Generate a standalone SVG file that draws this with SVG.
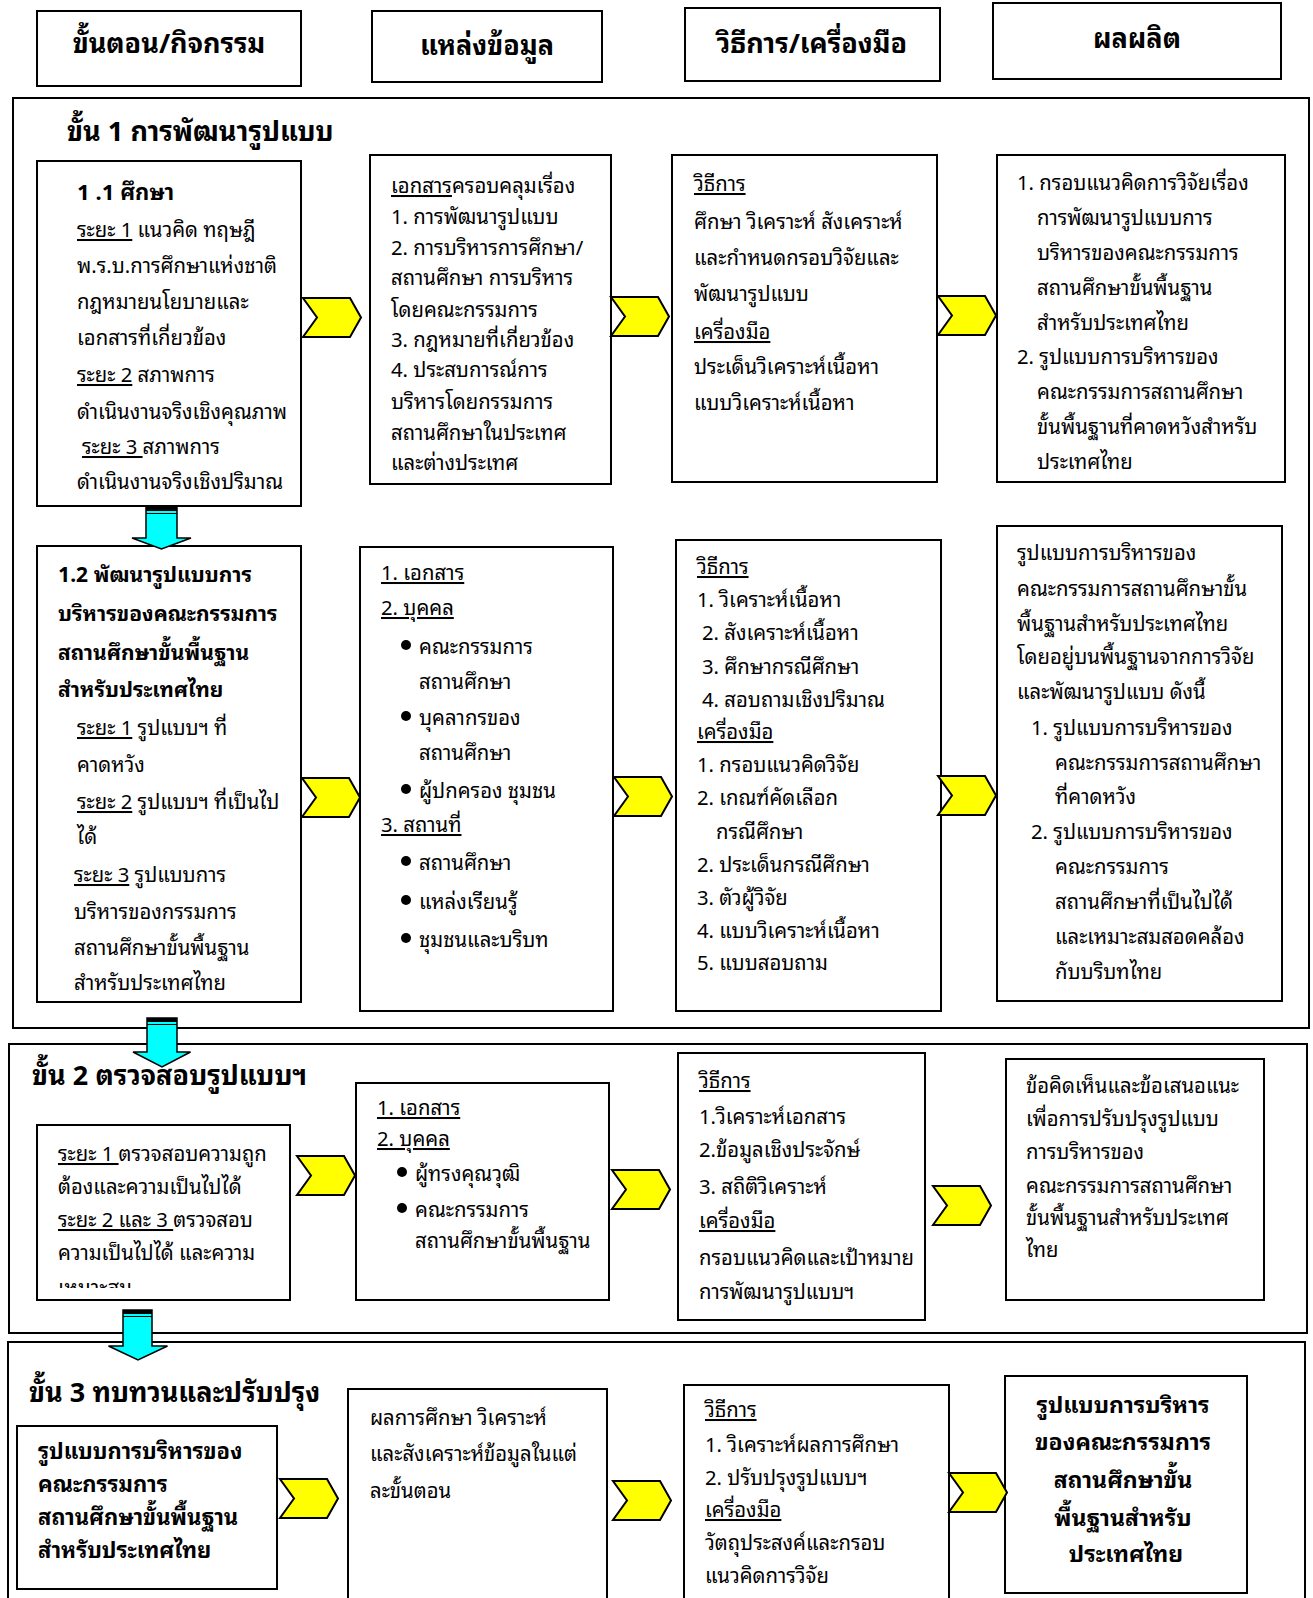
<svg xmlns="http://www.w3.org/2000/svg" xmlns:xlink="http://www.w3.org/1999/xlink" width="1313" height="1598" viewBox="0 0 1313 1598">
<style>
.bg{fill:#fff}
.sec{fill:none;stroke:#000;stroke-width:2}
.box{fill:#fff;stroke:#000;stroke-width:2}
.t{font-family:"Noto Sans Thai Looped","Noto Sans Thai","Noto Sans Thai UI",Loma,Garuda,"Noto Sans",sans-serif;font-size:20.3px;fill:#000}
.b{font-weight:bold}
.h{font-family:"Noto Sans Thai Looped","Noto Sans Thai","Noto Sans Thai UI",Loma,Garuda,"Noto Sans",sans-serif;font-size:27px;font-weight:bold;fill:#000}
.st{font-family:"Noto Sans Thai Looped","Noto Sans Thai","Noto Sans Thai UI",Loma,Garuda,"Noto Sans",sans-serif;font-size:27px;font-weight:bold;fill:#000}
.u{text-decoration:underline}
.c{text-anchor:middle}
.chev{fill:#ffff00;stroke:#000;stroke-width:2;stroke-linejoin:miter}
.down{fill:#00ffff;stroke:#000;stroke-width:1.5}
.dot{fill:#000}
</style>
<defs>
<path id="chev" class="chev" d="M0,0 H47 L58,19.5 L47,39 H0 L14,19.5 Z"/>
<clipPath id="clipI"><rect x="37" y="1125" width="253" height="163"/></clipPath>
</defs>
<rect class="bg" x="0" y="0" width="1313" height="1598"/>

<!-- header -->
<g id="hdr1"><rect class="box" x="37" y="11" width="264" height="75"/><text class="h c" x="169" y="53">ขั้นตอน/กิจกรรม</text></g>
<g id="hdr2"><rect class="box" x="372" y="11" width="230" height="71"/><text class="h c" x="487" y="55">แหล่งข้อมูล</text></g>
<g id="hdr3"><rect class="box" x="685" y="8" width="255" height="73"/><text class="h c" x="812" y="53">วิธีการ/เครื่องมือ</text></g>
<g id="hdr4"><rect class="box" x="993" y="3" width="288" height="76"/><text class="h c" x="1137" y="48">ผลผลิต</text></g>

<!-- sections -->
<g id="section1"><rect class="sec" x="13" y="98" width="1296" height="930"/><text class="st" x="67" y="141">ขั้น 1 การพัฒนารูปแบบ</text></g>
<g id="section2"><rect class="sec" x="9" y="1044" width="1298" height="289"/><text class="st" x="32" y="1085">ขั้น 2 ตรวจสอบรูปแบบฯ</text></g>
<g id="section3"><rect class="sec" x="8" y="1342" width="1297" height="270"/><text class="st" x="29" y="1402">ขั้น 3 ทบทวนและปรับปรุง</text></g>

<!-- row 1.1 -->
<g id="boxA"><rect class="box" x="37" y="161" width="264" height="345"/>
<text class="t" x="77"><tspan class="b" y="200" style="font-size:22px">1 .1 ศึกษา</tspan>
<tspan x="77" y="237"><tspan class="u">ระยะ 1</tspan>  แนวคิด ทฤษฎี</tspan>
<tspan x="77" y="273">พ.ร.บ.การศึกษาแห่งชาติ</tspan>
<tspan x="77" y="309">กฎหมายนโยบายและ</tspan>
<tspan x="77" y="345">เอกสารที่เกี่ยวข้อง</tspan>
<tspan x="77" y="382"><tspan class="u">ระยะ 2</tspan>  สภาพการ</tspan>
<tspan x="77" y="419">ดำเนินงานจริงเชิงคุณภาพ</tspan>
<tspan x="82" y="454"><tspan class="u">ระยะ 3 </tspan>สภาพการ</tspan>
<tspan x="77" y="489">ดำเนินงานจริงเชิงปริมาณ</tspan></text></g>

<g id="boxB"><rect class="box" x="370" y="155" width="241" height="329"/>
<text class="t" x="391"><tspan y="193"><tspan class="u">เอกสาร</tspan>ครอบคลุมเรื่อง</tspan>
<tspan x="391" y="224">1. การพัฒนารูปแบบ</tspan>
<tspan x="391" y="255">2. การบริหารการศึกษา/</tspan>
<tspan x="391" y="285">สถานศึกษา การบริหาร</tspan>
<tspan x="391" y="317">โดยคณะกรรมการ</tspan>
<tspan x="391" y="347">3. กฎหมายที่เกี่ยวข้อง</tspan>
<tspan x="391" y="377">4. ประสบการณ์การ</tspan>
<tspan x="391" y="409">บริหารโดยกรรมการ</tspan>
<tspan x="391" y="440">สถานศึกษาในประเทศ</tspan>
<tspan x="391" y="470">และต่างประเทศ</tspan></text></g>

<g id="boxC"><rect class="box" x="672" y="155" width="265" height="327"/>
<text class="t" x="694"><tspan class="u" y="191">วิธีการ</tspan>
<tspan x="694" y="229">ศึกษา วิเคราะห์ สังเคราะห์</tspan>
<tspan x="694" y="265">และกำหนดกรอบวิจัยและ</tspan>
<tspan x="694" y="301">พัฒนารูปแบบ</tspan>
<tspan x="694" y="339" class="u">เครื่องมือ</tspan>
<tspan x="694" y="374">ประเด็นวิเคราะห์เนื้อหา</tspan>
<tspan x="694" y="410">แบบวิเคราะห์เนื้อหา</tspan></text></g>

<g id="boxD"><rect class="box" x="997" y="155" width="288" height="327"/>
<text class="t"><tspan x="1017" y="190">1. กรอบแนวคิดการวิจัยเรื่อง</tspan>
<tspan x="1037" y="225">การพัฒนารูปแบบการ</tspan>
<tspan x="1037" y="260">บริหารของคณะกรรมการ</tspan>
<tspan x="1037" y="295">สถานศึกษาขั้นพื้นฐาน</tspan>
<tspan x="1037" y="330">สำหรับประเทศไทย</tspan>
<tspan x="1017" y="364">2. รูปแบบการบริหารของ</tspan>
<tspan x="1037" y="399">คณะกรรมการสถานศึกษา</tspan>
<tspan x="1037" y="434">ขั้นพื้นฐานที่คาดหวังสำหรับ</tspan>
<tspan x="1037" y="469">ประเทศไทย</tspan></text></g>

<!-- row 1.2 -->
<g id="boxE"><rect class="box" x="37" y="546" width="264" height="456"/>
<text class="t"><tspan class="b" x="58" y="582" style="font-size:21px">1.2  พัฒนารูปแบบการ</tspan>
<tspan class="b" x="58" y="621" style="font-size:21px">บริหารของคณะกรรมการ</tspan>
<tspan class="b" x="58" y="660" style="font-size:21px">สถานศึกษาขั้นพื้นฐาน</tspan>
<tspan class="b" x="58" y="697" style="font-size:21px">สำหรับประเทศไทย</tspan>
<tspan x="77" y="735"><tspan class="u">ระยะ 1</tspan>  รูปแบบฯ ที่</tspan>
<tspan x="77" y="772">คาดหวัง</tspan>
<tspan x="77" y="809"><tspan class="u">ระยะ 2</tspan> รูปแบบฯ ที่เป็นไป</tspan>
<tspan x="77" y="844">ได้</tspan>
<tspan x="74" y="882"><tspan class="u">ระยะ 3</tspan> รูปแบบการ</tspan>
<tspan x="74" y="919">บริหารของกรรมการ</tspan>
<tspan x="74" y="955">สถานศึกษาขั้นพื้นฐาน</tspan>
<tspan x="74" y="990">สำหรับประเทศไทย</tspan></text></g>

<g id="boxF"><rect class="box" x="360" y="547" width="253" height="464"/>
<text class="t"><tspan class="u" x="381" y="580">1. เอกสาร</tspan>
<tspan class="u" x="381" y="615">2. บุคคล</tspan>
<tspan x="419" y="654">คณะกรรมการ</tspan>
<tspan x="419" y="689">สถานศึกษา</tspan>
<tspan x="419" y="725">บุคลากรของ</tspan>
<tspan x="419" y="760">สถานศึกษา</tspan>
<tspan x="419" y="798">ผู้ปกครอง ชุมชน</tspan>
<tspan class="u" x="381" y="832">3. สถานที่</tspan>
<tspan x="419" y="870">สถานศึกษา</tspan>
<tspan x="419" y="909">แหล่งเรียนรู้</tspan>
<tspan x="419" y="947">ชุมชนและบริบท</tspan></text>
<circle class="dot" cx="406" cy="645" r="5"/><circle class="dot" cx="406" cy="716" r="5"/><circle class="dot" cx="406" cy="789" r="5"/>
<circle class="dot" cx="406" cy="861" r="5"/><circle class="dot" cx="406" cy="900" r="5"/><circle class="dot" cx="406" cy="938" r="5"/></g>

<g id="boxG"><rect class="box" x="676" y="540" width="265" height="471"/>
<text class="t"><tspan class="u" x="697" y="574">วิธีการ</tspan>
<tspan x="697" y="607">1. วิเคราะห์เนื้อหา</tspan>
<tspan x="702" y="640">2. สังเคราะห์เนื้อหา</tspan>
<tspan x="702" y="674">3. ศึกษากรณีศึกษา</tspan>
<tspan x="702" y="707">4. สอบถามเชิงปริมาณ</tspan>
<tspan class="u" x="697" y="739">เครื่องมือ</tspan>
<tspan x="697" y="772">1. กรอบแนวคิดวิจัย</tspan>
<tspan x="697" y="805">2. เกณฑ์คัดเลือก</tspan>
<tspan x="716" y="839">กรณีศึกษา</tspan>
<tspan x="697" y="872">2. ประเด็นกรณีศึกษา</tspan>
<tspan x="697" y="905">3. ตัวผู้วิจัย</tspan>
<tspan x="697" y="938">4. แบบวิเคราะห์เนื้อหา</tspan>
<tspan x="697" y="970">5. แบบสอบถาม</tspan></text></g>

<g id="boxH"><rect class="box" x="997" y="526" width="285" height="475"/>
<text class="t"><tspan x="1017" y="560">รูปแบบการบริหารของ</tspan>
<tspan x="1017" y="596">คณะกรรมการสถานศึกษาขั้น</tspan>
<tspan x="1017" y="631">พื้นฐานสำหรับประเทศไทย</tspan>
<tspan x="1017" y="664">โดยอยู่บนพื้นฐานจากการวิจัย</tspan>
<tspan x="1017" y="699">และพัฒนารูปแบบ ดังนี้</tspan>
<tspan x="1031" y="735">1. รูปแบบการบริหารของ</tspan>
<tspan x="1055" y="770">คณะกรรมการสถานศึกษา</tspan>
<tspan x="1055" y="804">ที่คาดหวัง</tspan>
<tspan x="1031" y="839">2. รูปแบบการบริหารของ</tspan>
<tspan x="1055" y="874">คณะกรรมการ</tspan>
<tspan x="1055" y="909">สถานศึกษาที่เป็นไปได้</tspan>
<tspan x="1055" y="944">และเหมาะสมสอดคล้อง</tspan>
<tspan x="1055" y="979">กับบริบทไทย</tspan></text></g>

<!-- section 2 -->
<g id="boxI"><rect class="box" x="37" y="1125" width="253" height="175"/>
<text class="t" clip-path="url(#clipI)"><tspan x="58" y="1161"><tspan class="u">ระยะ 1 </tspan>ตรวจสอบความถูก</tspan>
<tspan x="58" y="1194">ต้องและความเป็นไปได้</tspan>
<tspan x="58" y="1227"><tspan class="u">ระยะ 2 และ 3 </tspan> ตรวจสอบ</tspan>
<tspan x="58" y="1260">ความเป็นไปได้ และความ</tspan>
<tspan x="58" y="1295">เหมาะสม</tspan></text></g>

<g id="boxJ"><rect class="box" x="356" y="1083" width="253" height="217"/>
<text class="t"><tspan class="u" x="377" y="1115">1. เอกสาร</tspan>
<tspan class="u" x="377" y="1146">2. บุคคล</tspan>
<tspan x="415" y="1181">ผู้ทรงคุณวุฒิ</tspan>
<tspan x="415" y="1217">คณะกรรมการ</tspan>
<tspan x="415" y="1248">สถานศึกษาขั้นพื้นฐาน</tspan></text>
<circle class="dot" cx="402" cy="1172" r="5"/><circle class="dot" cx="402" cy="1208" r="5"/></g>

<g id="boxO"><rect class="box" x="678" y="1053" width="247" height="267"/>
<text class="t"><tspan class="u" x="699" y="1088">วิธีการ</tspan>
<tspan x="699" y="1124">1.วิเคราะห์เอกสาร</tspan>
<tspan x="699" y="1157">2.ข้อมูลเชิงประจักษ์</tspan>
<tspan x="699" y="1194">3. สถิติวิเคราะห์</tspan>
<tspan class="u" x="699" y="1228">เครื่องมือ</tspan>
<tspan x="699" y="1265">กรอบแนวคิดและเป้าหมาย</tspan>
<tspan x="699" y="1299">การพัฒนารูปแบบฯ</tspan></text></g>

<g id="boxP"><rect class="box" x="1006" y="1059" width="258" height="241"/>
<text class="t"><tspan x="1026" y="1093">ข้อคิดเห็นและข้อเสนอแนะ</tspan>
<tspan x="1026" y="1126">เพื่อการปรับปรุงรูปแบบ</tspan>
<tspan x="1026" y="1159">การบริหารของ</tspan>
<tspan x="1026" y="1193">คณะกรรมการสถานศึกษา</tspan>
<tspan x="1026" y="1225">ขั้นพื้นฐานสำหรับประเทศ</tspan>
<tspan x="1026" y="1257">ไทย</tspan></text></g>

<!-- section 3 -->
<g id="boxK"><rect class="box" x="17" y="1426" width="260" height="163"/>
<text class="t b" style="font-size:22px"><tspan x="38" y="1459">รูปแบบการบริหารของ</tspan>
<tspan x="38" y="1492">คณะกรรมการ</tspan>
<tspan x="38" y="1525">สถานศึกษาขั้นพื้นฐาน</tspan>
<tspan x="38" y="1558">สำหรับประเทศไทย</tspan></text></g>

<g id="boxL"><rect class="box" x="348" y="1389" width="259" height="230"/>
<text class="t"><tspan x="370" y="1425">ผลการศึกษา วิเคราะห์</tspan>
<tspan x="370" y="1461">และสังเคราะห์ข้อมูลในแต่</tspan>
<tspan x="370" y="1498">ละขั้นตอน</tspan></text></g>

<g id="boxM"><rect class="box" x="684" y="1385" width="265" height="234"/>
<text class="t"><tspan class="u" x="705" y="1417">วิธีการ</tspan>
<tspan x="705" y="1452">1. วิเคราะห์ผลการศึกษา</tspan>
<tspan x="705" y="1485">2. ปรับปรุงรูปแบบฯ</tspan>
<tspan class="u" x="705" y="1517">เครื่องมือ</tspan>
<tspan x="705" y="1550">วัตถุประสงค์และกรอบ</tspan>
<tspan x="705" y="1583">แนวคิดการวิจัย</tspan></text></g>

<g id="boxN"><rect class="box" x="1005" y="1376" width="242" height="217"/>
<text class="t b c" style="font-size:23px"><tspan x="1126" y="1413">รูปแบบการบริหาร</tspan>
<tspan x="1126" y="1450">ของคณะกรรมการ</tspan>
<tspan x="1126" y="1488">สถานศึกษาขั้น</tspan>
<tspan x="1126" y="1526">พื้นฐานสำหรับ</tspan>
<tspan x="1126" y="1562">ประเทศไทย</tspan></text></g>

<!-- connectors -->
<g id="connectors">
<use xlink:href="#chev" x="303" y="298"/>
<use xlink:href="#chev" x="611" y="297"/>
<use xlink:href="#chev" x="938" y="296"/>
<use xlink:href="#chev" x="302" y="778"/>
<use xlink:href="#chev" x="614" y="777"/>
<use xlink:href="#chev" x="938" y="776"/>
<use xlink:href="#chev" x="297" y="1156"/>
<use xlink:href="#chev" x="612" y="1170"/>
<use xlink:href="#chev" x="933" y="1186"/>
<use xlink:href="#chev" x="280" y="1479"/>
<use xlink:href="#chev" x="613" y="1481"/>
<use xlink:href="#chev" x="949" y="1473"/>
<g id="down1"><path class="down" d="M146,507 H177 V538 H191 L161.5,549 L132,538 H146 Z"/><rect x="146" y="507" width="31" height="4" fill="#000"/><line x1="146" y1="513.5" x2="177" y2="513.5" stroke="#000" stroke-width="1"/></g>
<g id="down2"><path class="down" d="M147,1018 H177 V1052 H190.5 L162,1067 L133,1052 H147 Z"/><rect x="147" y="1018" width="30" height="4" fill="#000"/><line x1="147" y1="1024.5" x2="177" y2="1024.5" stroke="#000" stroke-width="1"/></g>
<g id="down3"><path class="down" d="M123,1310 H152 V1346 H167.5 L138,1360 L108.5,1346 H123 Z"/><rect x="123" y="1310" width="29" height="4" fill="#000"/><line x1="123" y1="1316.5" x2="152" y2="1316.5" stroke="#000" stroke-width="1"/></g>
</g>
</svg>
